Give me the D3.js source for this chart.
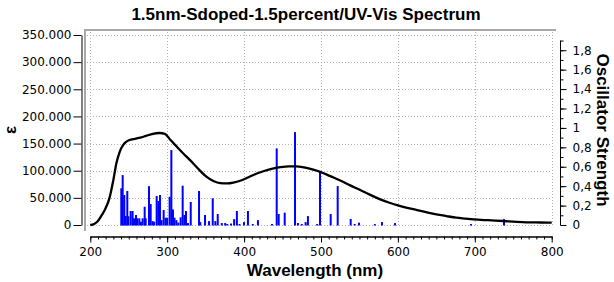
<!DOCTYPE html>
<html><head><meta charset="utf-8">
<script src="https://cdn.jsdelivr.net/npm/d3@7"></script>
<style>body{margin:0;background:#fff}svg{display:block;font-family:"DejaVu Sans",Verdana,sans-serif}
.ttl{font-family:"Liberation Sans",Arial,sans-serif;font-weight:bold}</style>
</head><body>
<svg id="c" width="614" height="282"></svg>
<script>
const titleText = "1.5nm-Sdoped-1.5percent/UV-Vis Spectrum";
const xTitle = "Wavelength (nm)";
const yLeftTitle = "ε";
const yRightTitle = "Oscillator Strength";
const xTicks = [200,300,400,500,600,700,800];
const yLeftTicks = [0,50000,100000,150000,200000,250000,300000,350000];
const yRightTicks = [0,0.2,0.4,0.6,0.8,1,1.2,1.4,1.6,1.8];
// spectrum curve (wavelength nm, epsilon)
const curveNm  = [200,205,209,215,219,225,230,234,238,243,247,251,258,265,272,280,290,297,304,312,320,330,340,351,360,369,378,386,395,404,415,425,437,447,458,468,478,490,499,512,525,538,551,564,577,590,600,612,625,638,650,663,676,688,698,717,737,750,767,785,800];
const curveEps = [0,2000,6000,18500,28000,50000,83000,114000,134000,148000,153500,156500,158800,161000,164000,167500,169500,168000,157000,145000,133000,119000,104000,89000,81000,77000,76500,78000,81500,87000,94000,99000,104000,106500,108000,108000,106000,102000,98000,90000,82000,73000,64500,55500,47300,40500,36000,31500,27500,23300,19700,16500,13500,11800,10400,8800,7400,6300,5000,4600,4300];
// oscillator strength sticks
const stickNm = [240.3,242.1,244.2,246,248.1,249.5,252.5,255,256.8,259.4,261,263.7,265.8,268.1,270.7,272,276.3,278.5,281,283,286.3,288.5,290.6,292.6,295.4,298,300,303.2,305.4,307.5,309.5,312,314.6,317.5,320.1,322.4,324.4,327,330.6,341.4,343,349.2,354.4,359.2,362.6,365.7,371,375.4,378,383,387,390.6,394,399.9,405,411.3,418,436.3,442.4,445,452.8,466.2,470,475,480,483,495,498.7,512.6,521.7,538.6,543.8,549.4,570,579.3,596.2,695,738];
const stickF  = [0.378,0.514,0.309,0.093,0.35,0.09,0.144,0.144,0.069,0.103,0.069,0.069,0.034,0.069,0.188,0.069,0.40,0.216,0.04,0.034,0.298,0.247,0.309,0.05,0.154,0.075,0.075,0.291,0.772,0.16,0.075,0.05,0.025,0.079,0.405,0.103,0.144,0.02,0.237,0.35,0.03,0.103,0.04,0.275,0.04,0.113,0.02,0.02,0.01,0.015,0.06,0.144,0.01,0.03,0.144,0.01,0.05,0.01,0.789,0.113,0.127,0.957,0.02,0.01,0.03,0.092,0.01,0.548,0.113,0.401,0.062,0.01,0.024,0.01,0.03,0.02,0.01,0.06];

const svg = d3.select("#c");
const x = d3.scaleLinear().domain([200,800]).range([90.3,551.7]);
const yL = d3.scaleLinear().domain([0,350000]).range([225,35]);
const yR = d3.scaleLinear().domain([0,1.957]).range([225,35]);
const loc = d3.formatLocale({decimal:",",thousands:".",grouping:[3],currency:["",""]});
const fmtL = loc.format(",.0f");
const fmtR = d => d===0 ? "0" : String(+d.toFixed(1)).replace(".", ",");

// grid
const g = svg.append("g").attr("stroke","#b0b0b0").attr("stroke-dasharray","1,2").attr("stroke-width",1);
g.selectAll("line.h").data(yLeftTicks).join("line").attr("class","h")
  .attr("x1",87).attr("x2",552).attr("y1",d=>Math.round(yL(d))+0.5).attr("y2",d=>Math.round(yL(d))+0.5);
g.selectAll("line.v").data(xTicks).join("line").attr("class","v")
  .attr("x1",d=>Math.round(x(d))+0.5).attr("x2",d=>Math.round(x(d))+0.5).attr("y1",32).attr("y2",226);

// frame (top and left)
svg.append("path").attr("d","M85,231V30H556").attr("fill","none").attr("stroke","#a8a8a8").attr("stroke-width",2);

// sticks
svg.append("g").selectAll("rect").data(stickNm).join("rect")
  .attr("x",(d)=>x(d)-1).attr("width",2)
  .attr("y",(d,i)=>yR(stickF[i])).attr("height",(d,i)=>yR(0)-yR(stickF[i])+0.5)
  .attr("fill","#0000ff");

// curve
const pts = curveNm.map((d,i)=>[d,curveEps[i]]);
svg.append("path").datum(pts)
  .attr("d", d3.line().x(d=>x(d[0])).y(d=>yL(d[1])).curve(d3.curveMonotoneX))
  .attr("fill","none").attr("stroke","#000").attr("stroke-width",2.3);

// left axis
svg.append("g").attr("transform","translate(81.5,0)")
  .call(d3.axisLeft(yL).tickValues(yLeftTicks).tickFormat(fmtL).tickSize(8).tickSizeOuter(0).tickPadding(2));
// right axis
const rMinor = d3.range(0,20).map(i=>i/10);
svg.append("g").attr("transform","translate(560.5,0)")
  .call(d3.axisRight(yR).tickValues(rMinor).tickFormat("").tickSize(3).tickSizeOuter(0))
  .call(s=>s.select(".domain").remove());
svg.append("g").attr("transform","translate(560.5,0)")
  .call(d3.axisRight(yR).tickValues(yRightTicks).tickFormat(fmtR).tickSize(6).tickSizeOuter(0).tickPadding(6))
  .call(s=>s.select(".domain").attr("d","M0,"+yR(1.9)+"V"+yR(0)));
// bottom axis
const xMinor = d3.range(200,801,10);
svg.append("g").attr("transform","translate(0,236.5)")
  .call(d3.axisBottom(x).tickValues(xMinor).tickFormat("").tickSize(3).tickSizeOuter(0));
svg.append("g").attr("transform","translate(0,236.5)")
  .call(d3.axisBottom(x).tickValues(xTicks).tickFormat(d3.format("d")).tickSize(6).tickSizeOuter(0).tickPadding(5));

svg.selectAll(".tick text").attr("font-size",12).attr("fill","#000").attr("font-family","DejaVu Sans");
svg.selectAll(".domain, .tick line").attr("stroke","#000");

// titles
svg.append("text").attr("class","ttl").attr("x",306).attr("y",20).attr("text-anchor","middle")
  .attr("font-size",17).text(titleText);
svg.append("text").attr("class","ttl").attr("x",315).attr("y",276).attr("text-anchor","middle")
  .attr("font-size",17).text(xTitle);
svg.append("text").attr("class","ttl").attr("transform","translate(10,130) rotate(-90)").attr("text-anchor","middle")
  .attr("dy","0.35em").attr("font-size",17).text(yLeftTitle);
svg.append("text").attr("class","ttl").attr("transform","translate(603,130) rotate(90)").attr("text-anchor","middle")
  .attr("dy","0.35em").attr("font-size",17).text(yRightTitle);
</script>
</body></html>
